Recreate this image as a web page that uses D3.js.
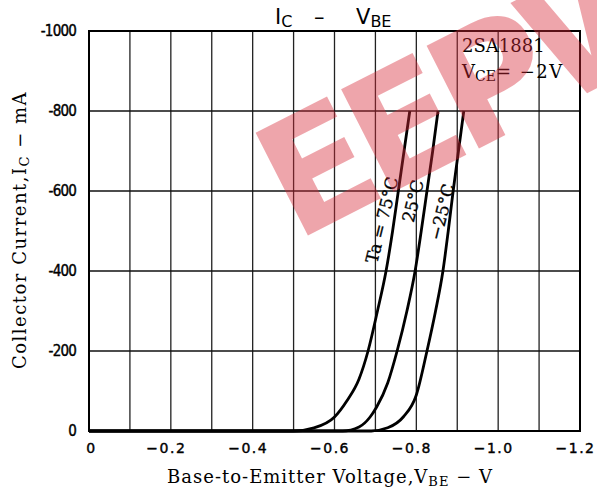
<!DOCTYPE html>
<html>
<head>
<meta charset="utf-8">
<style>
  body { margin: 0; background: #fff; }
  svg { display: block; }
</style>
</head>
<body>
<script src="https://cdn.jsdelivr.net/npm/d3@7/dist/d3.min.js"></script>
<script>
  // values (V, mA)
  var vbe75  = [0, -0.50, -0.55, -0.60, -0.63, -0.66, -0.682, -0.705, -0.726, -0.742, -0.756, -0.770, -0.784];
  var ic75   = [0, 0, -8, -35, -75, -130, -200, -300, -400, -500, -600, -700, -800];
  var vbe25  = [0, -0.62, -0.66, -0.687, -0.703, -0.73, -0.753, -0.777, -0.797, -0.812, -0.826, -0.840, -0.853];
  var ic25   = [0, 0, -10, -35, -60, -120, -200, -300, -400, -500, -600, -700, -800];
  var vbeM25 = [0, -0.69, -0.73, -0.768, -0.80, -0.826, -0.847, -0.865, -0.878, -0.890, -0.903, -0.916];
  var icM25  = [0, 0, -8, -35, -90, -200, -300, -400, -500, -600, -700, -800];

  var xGrid = [-0.1, -0.2, -0.3, -0.4, -0.5, -0.6, -0.7, -0.8, -0.9, -1.0, -1.1];
  var xTicks = [0, -0.2, -0.4, -0.6, -0.8, -1.0, -1.2];
  var xTickLabels = ["0", "\u22120.2", "\u22120.4", "\u22120.6", "\u22120.8", "\u22121.0", "\u22121.2"];
  var yGrid = [-200, -400, -600, -800];
  var yTicks = [0, -200, -400, -600, -800, -1000];
  var yTickLabels = ["0", "-200", "-400", "-600", "-800", "-1000"];

  var W = 597, H = 492;
  var mL = 89, mR = 580, mT = 31, mB = 431;

  var svg = d3.select("body")
    .append("svg")
    .attr("width", W)
    .attr("height", H);

  var x = d3.scaleLinear().domain([0, -1.2]).range([mL, mR]);
  var y = d3.scaleLinear().domain([0, -1000]).range([mB, mT]);

  // grid
  svg.selectAll(".vgrid")
    .data(xGrid)
    .enter()
  .append("line")
    .attr("x1", d => x(d)).attr("x2", d => x(d))
    .attr("y1", mT).attr("y2", mB)
    .attr("stroke", "#222")
    .attr("stroke-width", 1.3);

  svg.selectAll(".hgrid")
    .data(yGrid)
    .enter()
  .append("line")
    .attr("x1", mL).attr("x2", mR)
    .attr("y1", d => y(d)).attr("y2", d => y(d))
    .attr("stroke", "#111")
    .attr("stroke-width", 1.5);

  svg.append("rect")
    .attr("x", mL).attr("y", mT)
    .attr("width", mR - mL).attr("height", mB - mT)
    .attr("fill", "none")
    .attr("stroke", "#000")
    .attr("stroke-width", 2);

  // axes (labels only)
  var xAxis = svg.append("g")
    .attr("transform", "translate(0," + mB + ")")
    .call(d3.axisBottom(x).tickValues(xTicks).tickFormat((d, i) => xTickLabels[i]).tickSize(0).tickPadding(12));
  xAxis.select(".domain").remove();
  xAxis.selectAll("text")
    .attr("dx", (d, i) => i === 0 ? 2 : -5)
    .style("font-family", "DejaVu Sans")
    .style("font-size", "14px")
    .style("letter-spacing", "1.5px")
    .style("fill", "#000")
    .style("stroke", "#000")
    .style("stroke-width", 0.4);

  var yAxis = svg.append("g")
    .attr("transform", "translate(" + mL + ",0)")
    .call(d3.axisLeft(y).tickValues(yTicks).tickFormat((d, i) => yTickLabels[i]).tickSize(0).tickPadding(13));
  yAxis.select(".domain").remove();
  yAxis.selectAll("text")
    .style("font-family", "DejaVu Sans Condensed, DejaVu Sans")
    .style("font-size", "15px")
    .style("letter-spacing", "-0.8px")
    .style("fill", "#000")
    .style("stroke", "#000")
    .style("stroke-width", 0.4);

  // curves
  var series = [
    {v: vbe75, i: ic75},
    {v: vbe25, i: ic25},
    {v: vbeM25, i: icM25}
  ];

  var line = d3.line()
    .x(d => x(d[0]))
    .y(d => y(d[1]))
    .curve(d3.curveMonotoneX);

  svg.selectAll(".curve")
    .data(series)
    .enter()
  .append("path")
    .attr("d", s => line(d3.zip(s.v, s.i)))
    .attr("fill", "none")
    .attr("stroke", "#000")
    .attr("stroke-width", 2.8);

  // curve labels
  var serif = "DejaVu Serif";
  var curveLabels = [
    {t: "Ta = 75\u00b0C", cx: 382, cy: 220},
    {t: "25\u00b0C", cx: 413, cy: 201},
    {t: "\u221225\u00b0C", cx: 442, cy: 212}
  ];
  svg.selectAll(".clabel")
    .data(curveLabels)
    .enter()
  .append("text")
    .attr("transform", d => "translate(" + d.cx + "," + d.cy + ") rotate(-76)")
    .attr("text-anchor", "middle")
    .attr("dy", "0.35em")
    .style("font-family", serif)
    .style("font-size", "17px")
    .style("stroke", "#000")
    .style("stroke-width", 0.3)
    .text(d => d.t);

  // title
  var tfont = "DejaVu Sans";
  var t1 = svg.append("text").attr("x", 275).attr("y", 24)
    .style("font-family", tfont).style("font-size", "21px");
  t1.append("tspan").text("I");
  t1.append("tspan").attr("dy", 3).style("font-size", "16px").text("C");
  svg.append("text").attr("x", 314).attr("y", 24)
    .style("font-family", tfont).style("font-size", "21px").text("\u2013");
  var t2 = svg.append("text").attr("x", 356).attr("y", 24)
    .style("font-family", tfont).style("font-size", "21px");
  t2.append("tspan").text("V");
  t2.append("tspan").attr("dy", 3).style("font-size", "16px").text("BE");

  // device note
  svg.append("text")
    .attr("x", 462).attr("y", 52)
    .style("font-family", serif)
    .style("font-size", "18px")
    .text("2SA1881");
  var vce = svg.append("text")
    .attr("x", 462).attr("y", 78)
    .style("font-family", serif)
    .style("font-size", "18px");
  vce.append("tspan").text("V");
  vce.append("tspan").attr("dy", 3).style("font-size", "14px").text("CE");
  vce.append("tspan").attr("dy", -3).style("letter-spacing", "1.5px").text("= \u22122V");

  // axis titles
  var xt = svg.append("text")
    .attr("x", 330).attr("y", 483)
    .attr("text-anchor", "middle")
    .style("font-family", serif)
    .style("font-size", "18px")
    .style("letter-spacing", "1px");
  xt.append("tspan").text("Base-to-Emitter Voltage,V");
  xt.append("tspan").attr("dy", 3).style("font-size", "13px").text("BE");
  xt.append("tspan").attr("dy", -3).text(" \u2212 V");

  var yt = svg.append("text")
    .attr("transform", "translate(26,230) rotate(-90)")
    .attr("text-anchor", "middle")
    .style("font-family", serif)
    .style("font-size", "18px")
    .style("letter-spacing", "1.5px");
  yt.append("tspan").text("Collector Current,I");
  yt.append("tspan").attr("dy", 3).style("font-size", "13px").text("C");
  yt.append("tspan").attr("dy", -3).text(" \u2212 mA");

  // watermark
  svg.append("text")
    .attr("transform", "translate(295,242) rotate(-27)")
    .style("font-family", "DejaVu Sans")
    .style("font-weight", "bold")
    .style("font-size", "158px")
    .style("letter-spacing", "-12px")
    .attr("fill", "rgb(215,40,55)")
    .attr("fill-opacity", 0.42)
    .text("EEPW");
</script>
</body>
</html>
